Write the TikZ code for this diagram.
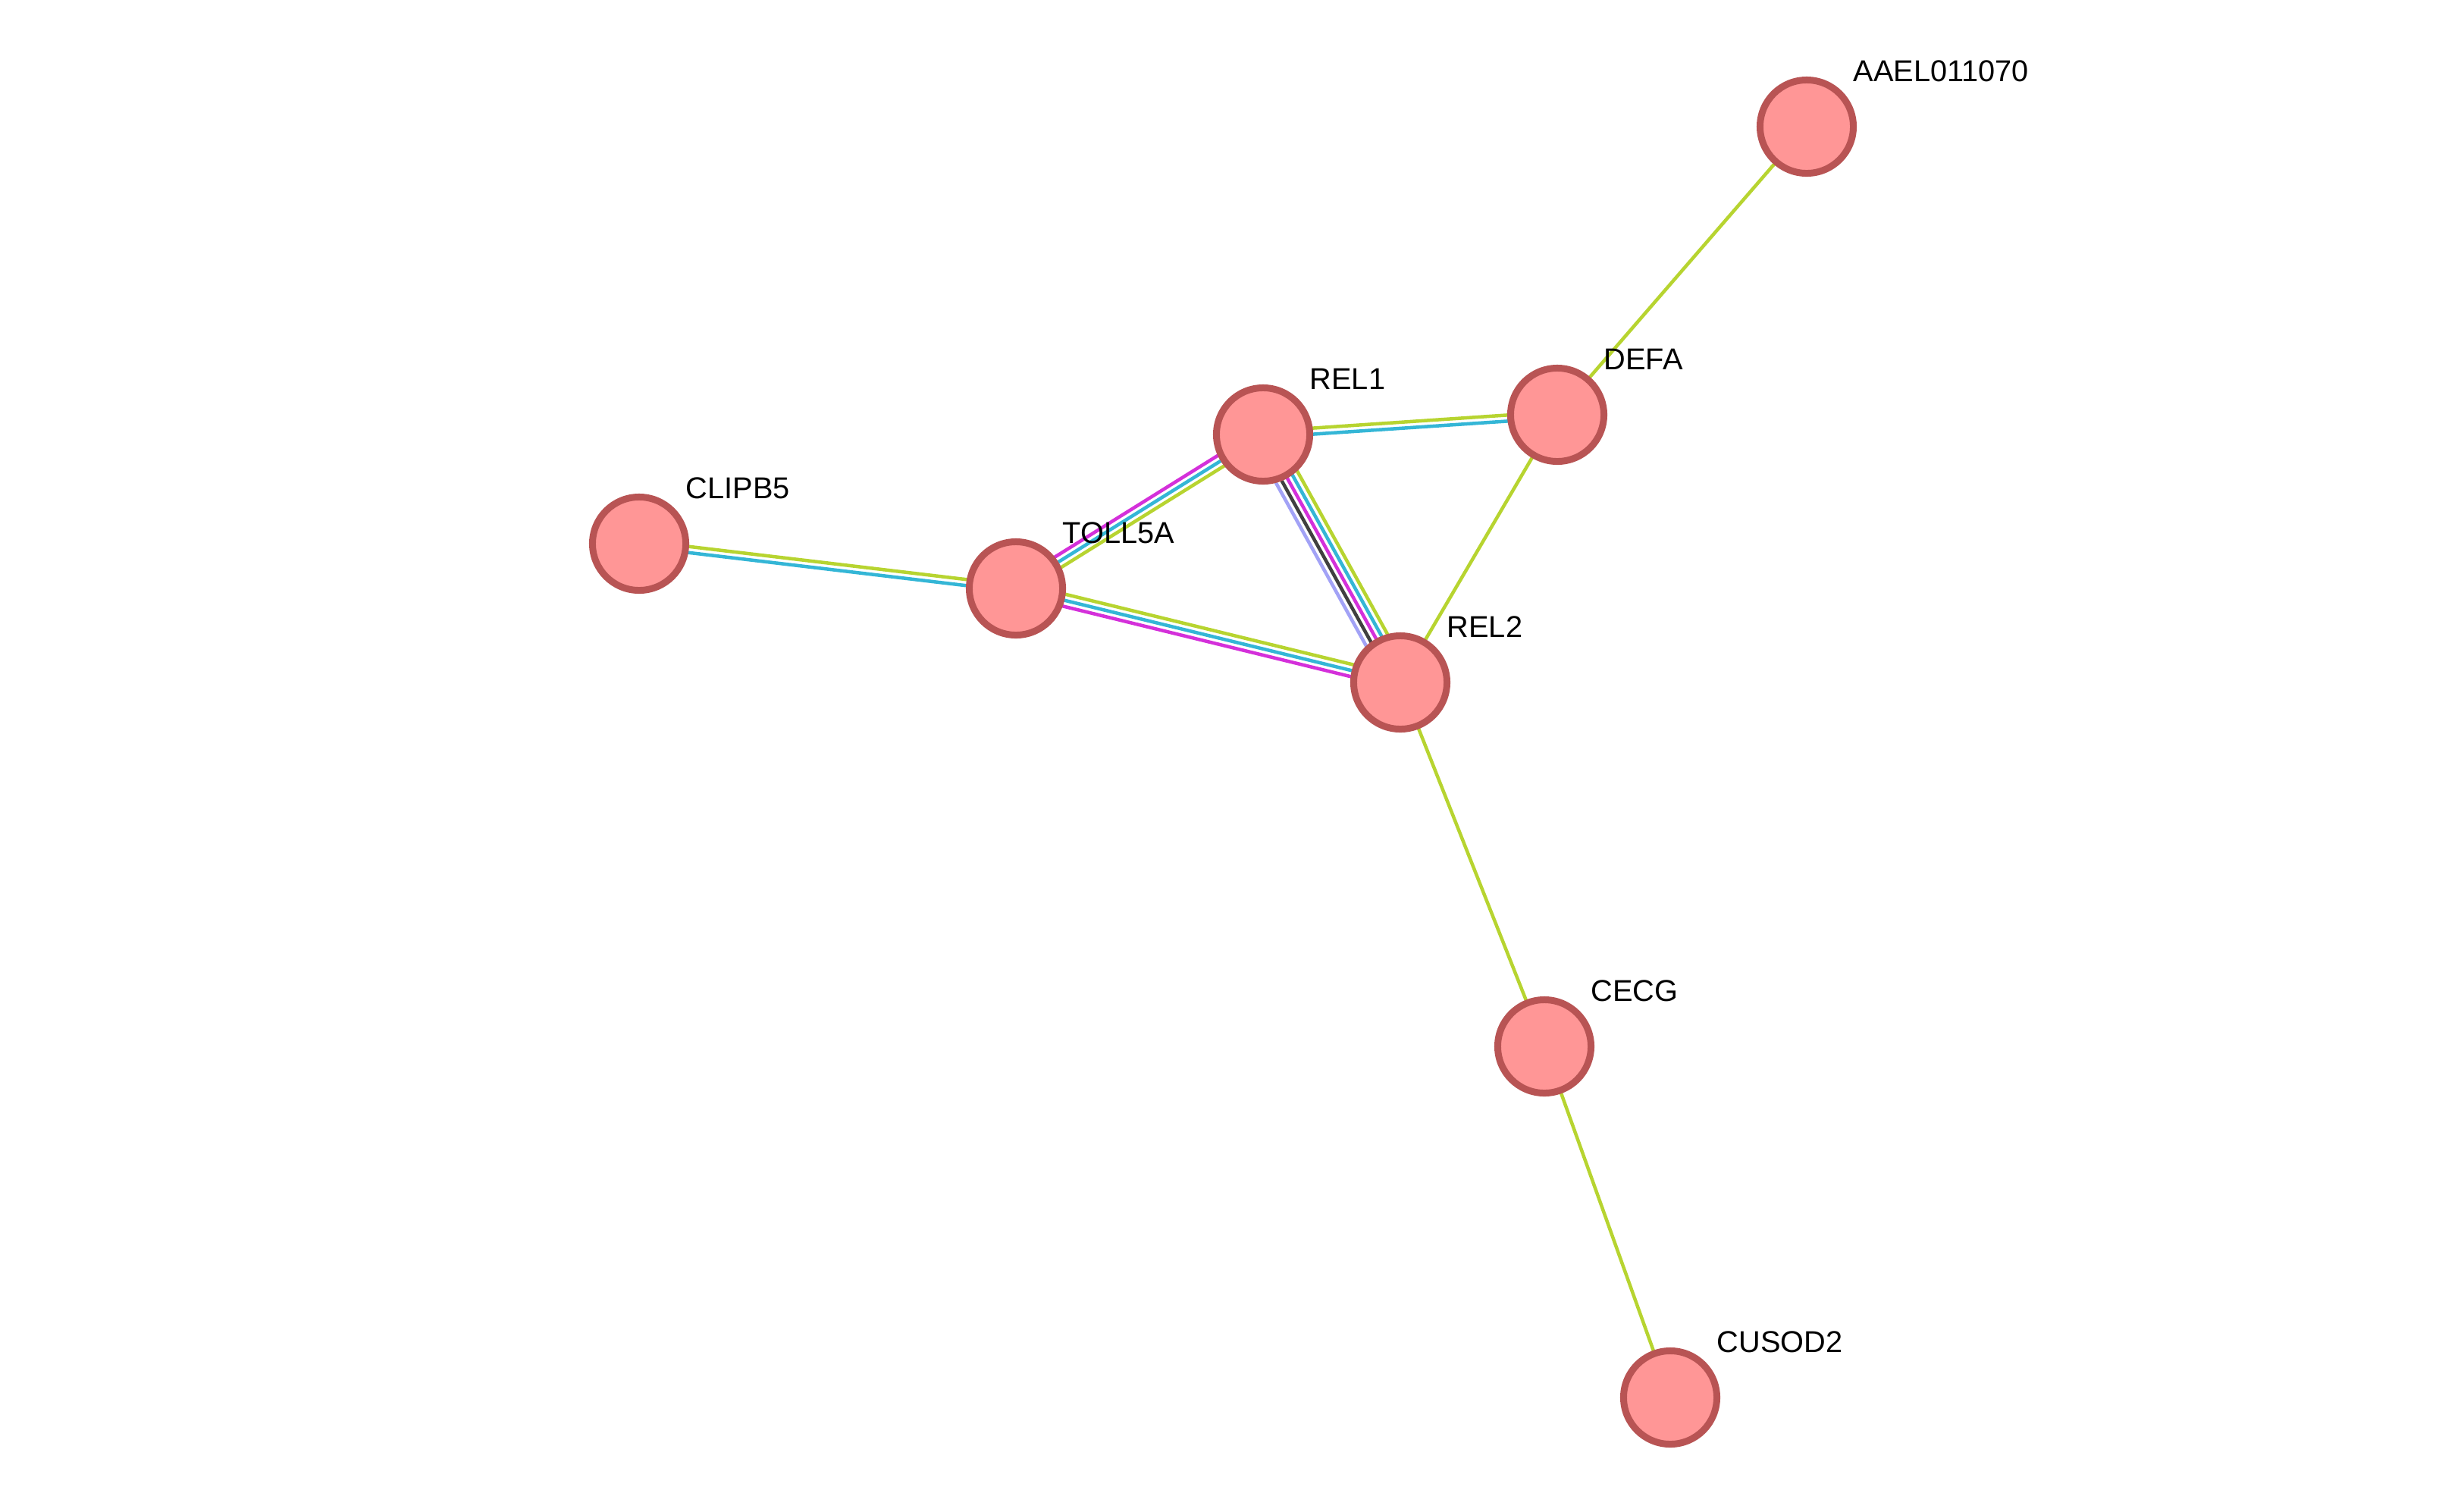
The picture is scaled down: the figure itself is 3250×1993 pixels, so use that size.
\documentclass[tikz,border=0pt]{standalone}
\usepackage{fontspec}
\setmainfont{Liberation Sans}
\usetikzlibrary{calc,backgrounds}

\definecolor{nodefill}{RGB}{255,150,150}
\definecolor{noderim}{RGB}{184,84,84}
\definecolor{tmgreen}{RGB}{183,212,48}
\definecolor{dbblue}{RGB}{52,182,214}
\definecolor{expmagenta}{RGB}{212,48,218}
\definecolor{coexgray}{RGB}{64,64,64}
\definecolor{homlav}{RGB}{162,162,246}

% one strand of a link, shifted sideways by #3
\newcommand{\strand}[4]{\draw[#4] ($(#1)!#3!90:(#2)$) -- ($(#2)!#3!-90:(#1)$);}

\begin{document}
\begin{tikzpicture}[x=0.01cm, y=-0.01cm,
    protein/.style={circle, draw=noderim, fill=nodefill, line width=0.09cm, minimum size=1.23cm, inner sep=0pt},
    lbl/.style={anchor=base west, inner sep=0pt, font=\fontsize{11.3pt}{13pt}\selectfont},
    link/.style={line width=0.045cm}]
        \useasboundingbox (0,0) rectangle (3250,1993);
        \node[protein] (aael) at (2383, 167) {};
        \node[protein] (defa) at (2054, 547) {};
        \node[protein] (rel1) at (1666, 573) {};
        \node[protein] (toll5a) at (1340, 776) {};
        \node[protein] (clipb5) at (843, 717) {};
        \node[protein] (rel2) at (1847, 900) {};
        \node[protein] (cecg) at (2037, 1380) {};
        \node[protein] (cusod2) at (2203, 1843) {};
        \node[lbl] (aael-l) at ([shift={(61,-60)}]aael.center) {AAEL011070};
        \node[lbl] (defa-l) at ([shift={(61,-60)}]defa.center) {DEFA};
        \node[lbl] (rel1-l) at ([shift={(61,-60)}]rel1.center) {REL1};
        \node[lbl] (toll5a-l) at ([shift={(61,-60)}]toll5a.center) {TOLL5A};
        \node[lbl] (clipb5-l) at ([shift={(61,-60)}]clipb5.center) {CLIPB5};
        \node[lbl] (rel2-l) at ([shift={(61,-60)}]rel2.center) {REL2};
        \node[lbl] (cecg-l) at ([shift={(61,-60)}]cecg.center) {CECG};
        \node[lbl] (cusod2-l) at ([shift={(61,-60)}]cusod2.center) {CUSOD2};
        \begin{scope}[on background layer]
            \strand{aael}{defa}{0cm}{link, tmgreen}
            \strand{defa}{rel2}{0cm}{link, tmgreen}
            \strand{rel2}{cecg}{0cm}{link, tmgreen}
            \strand{cecg}{cusod2}{0cm}{link, tmgreen}
            \strand{rel1}{defa}{0.04cm}{link, tmgreen}
            \strand{rel1}{defa}{-0.04cm}{link, dbblue}
            \strand{clipb5}{toll5a}{0.04cm}{link, tmgreen}
            \strand{clipb5}{toll5a}{-0.04cm}{link, dbblue}
            \strand{toll5a}{rel1}{0.08cm}{link, expmagenta}
            \strand{toll5a}{rel1}{0cm}{link, dbblue}
            \strand{toll5a}{rel1}{-0.08cm}{link, tmgreen}
            \strand{toll5a}{rel2}{0.08cm}{link, tmgreen}
            \strand{toll5a}{rel2}{0cm}{link, dbblue}
            \strand{toll5a}{rel2}{-0.08cm}{link, expmagenta}
            \strand{rel1}{rel2}{-0.16cm}{link, homlav}
            \strand{rel1}{rel2}{-0.08cm}{link, coexgray}
            \strand{rel1}{rel2}{0cm}{link, expmagenta}
            \strand{rel1}{rel2}{0.08cm}{link, dbblue}
            \strand{rel1}{rel2}{0.16cm}{link, tmgreen}
        \end{scope}
    \end{tikzpicture}
\end{document}
